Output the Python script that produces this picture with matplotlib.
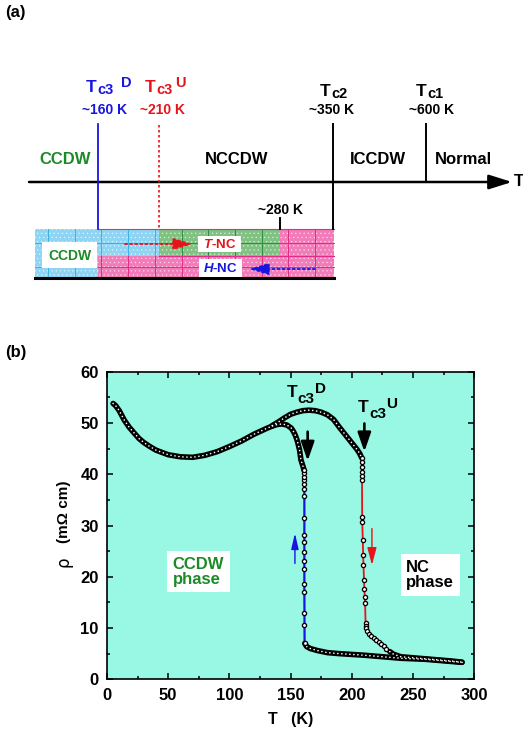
import matplotlib

matplotlib.use("Agg")
import matplotlib.pyplot as plt
from matplotlib.patches import Rectangle

plt.rcParams.update({
    "font.family": ["Liberation Sans", "DejaVu Sans"],
    "font.weight": "bold",
    "axes.labelweight": "bold",
    "mathtext.fontset": "custom",
    "mathtext.rm": "Liberation Sans:bold",
    "mathtext.bf": "Liberation Sans:bold",
    "mathtext.it": "Liberation Sans:bold:italic",
    "hatch.linewidth": 0.5,
})

# ---- panel (a): schematic phase sequence ----
PHASES = ["CCDW", "NCCDW", "ICCDW", "Normal"]
TC_SUB = ["c3", "c3", "c2", "c1"]
TC_SUPER = ["D", "U", "", ""]
TC_TEMPS = ["~160 K", "~210 K", "~350 K", "~600 K"]
MID_TEMP = "~280 K"

# ---- panel (b): resistivity vs temperature ----
# common low-T part (warming and cooling coincide)
low_T = [5, 7, 10, 14, 18, 22, 26, 30, 35, 40, 50, 60, 70, 80, 90, 100, 110, 120, 130, 135]
low_rho = [53.8, 53.4, 52.4, 50.6, 49.2, 48.1, 47.0, 46.2, 45.4, 44.7, 43.8, 43.4, 43.3,
           43.7, 44.4, 45.4, 46.5, 47.8, 48.9, 49.4]

# cooling: high-T branch, jump at Tc3^D, then upper part
cool_low_T = [290, 280, 270, 260, 250, 240, 230, 220, 210, 200, 190, 180, 172, 166, 163, 161.5]
cool_low_rho = [3.3, 3.5, 3.7, 3.9, 4.0, 4.1, 4.3, 4.5, 4.7, 4.85, 5.0, 5.2, 5.6, 6.0, 6.4, 7.0]
cool_jump_T = [161.4, 161.3, 161.3, 161.2, 161.2, 161.2, 161.2, 161.2, 161.2, 161.2, 161.2,
               161.2, 161.1, 161.1, 161.0, 161.0, 160.9, 160.8]
cool_jump_rho = [7.0, 10.6, 13.0, 17.0, 18.6, 21.5, 23.1, 24.9, 26.8, 28.1, 31.4, 35.8,
                 37.1, 38.1, 38.9, 39.5, 40.2, 40.8]
cool_up_T = [160.8, 160.4, 159.6, 158.4, 157.3, 156.2, 155.2, 153.8, 152.4, 150.5, 147, 143, 139, 135]
cool_up_rho = [40.8, 41.3, 41.9, 42.8, 44.7, 45.8, 46.7, 47.6, 48.3, 49.0, 49.6, 49.8, 49.7, 49.4]

# warming: hump, jump at Tc3^U, tail joining the low branch
warm_up_T = [135, 140, 145, 150, 155, 160, 165, 170, 175, 180, 185, 190, 195, 200, 204, 206.5, 208]
warm_up_rho = [49.5, 50.2, 51.0, 51.7, 52.1, 52.4, 52.5, 52.4, 52.1, 51.6, 50.7, 49.1,
               47.6, 46.1, 44.9, 44.0, 43.2]
warm_jump_T = [208.0, 208.0, 208.1, 208.1, 208.2, 208.3, 208.4, 208.5, 208.9, 209.2, 209.5,
               209.9, 210.2, 210.5, 210.8, 211.2, 211.5]
warm_jump_rho = [43.1, 42.4, 41.5, 40.5, 39.7, 38.9, 31.7, 30.7, 27.2, 24.2, 22.2, 19.4,
                 17.7, 16.1, 14.8, 10.9, 10.3]
warm_tail_T = [211.5, 212.5, 214, 216, 218, 220, 222, 224, 226, 228]
warm_tail_rho = [10.0, 9.4, 8.9, 8.4, 8.0, 7.6, 7.2, 6.8, 6.4, 6.0]
warm_low_T = [231, 234, 240, 250, 260, 270, 280, 290]
warm_low_rho = [5.4, 4.9, 4.4, 4.2, 4.0, 3.8, 3.6, 3.35]

X_TICKS = [0, 50, 100, 150, 200, 250, 300]
Y_TICKS = [0, 10, 20, 30, 40, 50, 60]

BLUE = "#1616e0"
RED = "#e5141b"
GREEN = "#1c8a26"


def t_label(ax, x, y, sub, sup, color, size, sub_size, sub_dx, sub_dy, sup_dx, sup_dy):
    """T with subscript/superscript, offsets in points from the T baseline."""
    ax.annotate("T", (x, y), xytext=(0, 0), textcoords="offset points", color=color,
                fontsize=size, ha="left", va="baseline")
    ax.annotate(sub, (x, y), xytext=(sub_dx, -sub_dy), textcoords="offset points", color=color,
                fontsize=sub_size, ha="left", va="baseline")
    if sup:
        ax.annotate(sup, (x, y), xytext=(sup_dx, sup_dy), textcoords="offset points",
                    color=color, fontsize=sub_size, ha="left", va="baseline")


fig = plt.figure(figsize=(5.23, 7.30), dpi=100)

# ================= panel (a) in pixel coordinates =================
axa = fig.add_axes([0, 1 - 290 / 730, 1, 290 / 730])
axa.set_xlim(0, 523)
axa.set_ylim(290, 0)
axa.axis("off")

fig.text(5 / 523, 1 - 13 / 730, "(a)", fontsize=12, va="center", ha="left")

tc_x = [98, 159, 333, 426]
tc_col = [BLUE, RED, "black", "black"]
axis_y = 182

# main temperature axis
axa.annotate("", xy=(512, axis_y), xytext=(29, axis_y),
             arrowprops=dict(arrowstyle="-|>,head_length=0.7,head_width=0.22",
                             mutation_scale=20, lw=1.8, color="black",
                             shrinkA=0, shrinkB=0))
axa.text(514, axis_y, "T", fontsize=12, ha="left", va="center")

# regions in the lower bar
box_top, box_mid, box_bot = 229, 256, 278
cells = [
    (35, box_top, 159, box_mid, "#8fd5f3", "#3ab2e4"),
    (159, box_top, 280, box_mid, "#80c283", "#2f8f3c"),
    (280, box_top, 334, box_mid, "#f27cb9", "#e02c86"),
    (35, box_mid, 98, box_bot, "#8fd5f3", "#3ab2e4"),
    (98, box_mid, 334, box_bot, "#f27cb9", "#e02c86"),
]
grid_x = [48 + 26.7 * k for k in range(11)]
for x0, y0, x1, y1, fc, lc in cells:
    axa.add_patch(Rectangle((x0, y0), x1 - x0, y1 - y0, facecolor=fc, edgecolor="none", zorder=1))
    axa.add_patch(Rectangle((x0, y0), x1 - x0, y1 - y0, facecolor="none", edgecolor="white",
                            lw=0, hatch="....", alpha=0.55, zorder=1.5))
    for gx in grid_x:
        if x0 < gx < x1:
            axa.plot([gx, gx], [y0, y1], color=lc, lw=0.7, zorder=2)
    ym = (y0 + y1) / 2
    axa.plot([x0, x1], [ym, ym], color=lc, lw=0.7, zorder=2)
axa.plot([98, 334], [box_top, box_top], color="#e02c86", lw=0.8, zorder=2)
axa.plot([159, 334], [box_mid, box_mid], color="#e02c86", lw=0.8, zorder=2)
axa.plot([35, 334], [box_bot, box_bot], color="black", lw=2.2, zorder=3)

# transition lines
axa.plot([tc_x[0], tc_x[0]], [124, box_top], color=BLUE, lw=1.3, zorder=3)
axa.plot([tc_x[1], tc_x[1]], [125, box_top], color=RED, lw=1.2, ls=(0, (1.5, 1.5)), zorder=3)
axa.plot([tc_x[2], tc_x[2]], [124, box_top], color="black", lw=1.4, zorder=3)
axa.plot([tc_x[3], tc_x[3]], [124, axis_y], color="black", lw=1.4, zorder=3)
axa.plot([280, 280], [218, box_top], color="black", lw=1.4, zorder=3)

# transition labels
name_x = [86, 145, 320, 416]
name_y = [92, 92, 96, 96]
sup_dx = [25, 22, 0, 0]
temp_x = [105, 162, 332, 432]
for i in range(4):
    t_label(axa, name_x[i], name_y[i], TC_SUB[i], TC_SUPER[i], tc_col[i],
            12.5, 10.5, 7.9, 1.6, sup_dx[i], 3.5)
    axa.text(temp_x[i], 110, TC_TEMPS[i], color=tc_col[i], fontsize=10,
             ha="center", va="center")

phase_x = [65, 237, 378, 463]
phase_col = [GREEN, "black", "black", "black"]
for px, name, col in zip(phase_x, PHASES, phase_col):
    axa.text(px, 159, name, color=col, fontsize=12, ha="center", va="center")
axa.text(281, 210, MID_TEMP, fontsize=10, ha="center", va="center")

# labels inside the bar
axa.add_patch(Rectangle((42, 242), 55, 26, facecolor="white", edgecolor="none", zorder=4))
axa.text(69.5, 255.5, "CCDW", color=GREEN, fontsize=10, ha="center", va="center", zorder=5)
axa.add_patch(Rectangle((198, 236), 43, 16, facecolor="white", edgecolor="none", zorder=4))
axa.text(219.5, 244.5, r"$\mathit{T}$-NC", color=RED, fontsize=9.5, ha="center", va="center", zorder=5)
axa.add_patch(Rectangle((199, 259), 43, 18, facecolor="white", edgecolor="none", zorder=4))
axa.text(220.5, 268.5, r"$\mathit{H}$-NC", color=BLUE, fontsize=9.5, ha="center", va="center", zorder=5)

axa.annotate("", xy=(193, 244), xytext=(125, 244),
             arrowprops=dict(arrowstyle="-|>,head_length=1.2,head_width=0.36", mutation_scale=10,
                             lw=1.3, color=RED, ls=(0, (1.2, 1.6)), shrinkA=0, shrinkB=0), zorder=5)
axa.annotate("", xy=(249, 269), xytext=(315, 269),
             arrowprops=dict(arrowstyle="-|>,head_length=1.2,head_width=0.36", mutation_scale=10,
                             lw=1.3, color=BLUE, ls=(0, (1.2, 1.6)), shrinkA=0, shrinkB=0), zorder=5)

# ================= panel (b) =================
ax = fig.add_axes([107 / 523, (730 - 679.3) / 730, 367.3 / 523, 307.6 / 730])
ax.set_facecolor("#99f8e3")
fig.text(5 / 523, 1 - 352 / 730, "(b)", fontsize=12, va="center", ha="left")


def chain(t, r):
    ax.plot(t, r, color="black", lw=4.0, solid_capstyle="round", solid_joinstyle="round", zorder=4)
    ax.plot(t, r, color="white", lw=1.2, ls=(0, (0.01, 2.4)), dash_capstyle="round", zorder=5)


def dots(t, r):
    ax.plot(t, r, ls="none", marker="o", ms=3.0, mfc="white", mec="black", mew=0.95, zorder=6)


# coloured connecting lines of the sweeps
ax.plot(cool_jump_T, cool_jump_rho, color=BLUE, lw=1.6, zorder=3)
ax.plot(warm_jump_T + warm_tail_T + warm_low_T[:2], warm_jump_rho + warm_tail_rho + warm_low_rho[:2],
        color=RED, lw=1.3, zorder=3)

chain(low_T, low_rho)
chain(cool_low_T, cool_low_rho)
chain(cool_up_T, cool_up_rho)
chain(warm_up_T, warm_up_rho)
chain(warm_low_T, warm_low_rho)
dots(cool_jump_T, cool_jump_rho)
dots(warm_jump_T, warm_jump_rho)
dots(warm_tail_T, warm_tail_rho)

# arrows
big = dict(arrowstyle="-|>,head_length=1.15,head_width=0.4", mutation_scale=10, lw=1.9,
           color="black", shrinkA=0, shrinkB=0)
ax.annotate("", xy=(163.9, 42.6), xytext=(163.9, 48.3), arrowprops=big, zorder=7)
ax.annotate("", xy=(210.2, 44.4), xytext=(210.2, 49.9), arrowprops=big, zorder=7)
ax.annotate("", xy=(153.5, 28.5), xytext=(153.5, 22.6),
            arrowprops=dict(arrowstyle="-|>,head_length=0.95,head_width=0.22", mutation_scale=10,
                            lw=1.0, color=BLUE, shrinkA=0, shrinkB=0), zorder=7)
ax.annotate("", xy=(216.4, 22.3), xytext=(216.4, 29.4),
            arrowprops=dict(arrowstyle="-|>,head_length=1.05,head_width=0.28", mutation_scale=10,
                            lw=1.0, color=RED, shrinkA=0, shrinkB=0), zorder=7)

t_label(ax, 146.5, 55.1, "c3", "D", "black", 12.5, 11, 7.9, 4.3, 20.4, 2.9)
t_label(ax, 205.0, 52.2, "c3", "U", "black", 12.5, 11, 7.9, 4.3, 20.4, 2.9)

ax.text(53.6, 21.0, "CCDW\nphase", color=GREEN, fontsize=12, ha="left", va="center",
        linespacing=1.0, zorder=8,
        bbox=dict(facecolor="white", edgecolor="none", boxstyle="square,pad=0.35"))
ax.text(244.5, 20.3, "NC\nphase", color="black", fontsize=12, ha="left", va="center",
        linespacing=1.0, zorder=8,
        bbox=dict(facecolor="white", edgecolor="none", boxstyle="square,pad=0.35"))

ax.set_xlim(0, 300)
ax.set_ylim(0, 60)
ax.set_xticks(X_TICKS)
ax.set_xticklabels([str(v) for v in X_TICKS], fontsize=12, fontweight="bold")
ax.set_xticks(range(25, 300, 50), minor=True)
ax.set_yticks(Y_TICKS)
ax.set_yticklabels([str(v) for v in Y_TICKS], fontsize=12, fontweight="bold")
ax.set_yticks(range(5, 60, 10), minor=True)
ax.tick_params(which="both", direction="in", top=True, right=True, width=1.1)
ax.tick_params(which="major", length=4.5, pad=6)
ax.tick_params(which="minor", length=2.5)
for sp in ax.spines.values():
    sp.set_linewidth(1.2)

ax.set_xlabel("T   (K)", fontsize=11.5, fontweight="bold", labelpad=7)
ax.text(-0.118, 0.381, "ρ", transform=ax.transAxes, rotation=90, fontsize=12,
        fontweight="normal", family="DejaVu Sans", ha="center", va="center")
ax.text(-0.118, 0.545, "(mΩ cm)", transform=ax.transAxes, rotation=90, fontsize=11,
        ha="center", va="center")

fig.savefig("out.png", dpi=100)
